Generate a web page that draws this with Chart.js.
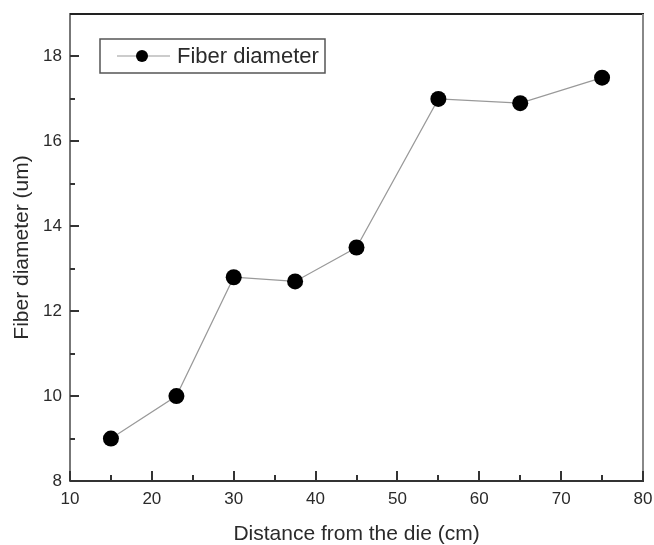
<!DOCTYPE html>
<html>
<head>
<meta charset="utf-8">
<script src="https://cdn.jsdelivr.net/npm/chart.js@4/dist/chart.umd.min.js"></script>
<style>
html,body{margin:0;padding:0;background:#fff;}
canvas{display:block;}
</style>
</head>
<body>
<canvas id="c" width="654" height="545"></canvas>
<script>
// Data
const distances = [15, 23, 30, 37.5, 45, 55, 65, 75];
const fiberDiameters = [9.0, 10.0, 12.8, 12.7, 13.5, 17.0, 16.9, 17.5];
const seriesLabel = 'Fiber diameter';
const xTitle = 'Distance from the die (cm)';
const yTitle = 'Fiber diameter (um)';
const xTickValues = [10, 20, 30, 40, 50, 60, 70, 80];
const yTickValues = [8, 10, 12, 14, 16, 18];

const FONT = "'Liberation Sans', Arial, sans-serif";
const TEXT = '#2a2a2a';

const points = distances.map((d, i) => ({x: d, y: fiberDiameters[i]}));

const framePlugin = {
  id: 'frame',
  afterDraw(chart) {
    const ctx = chart.ctx;
    const a = chart.chartArea;
    const xs = chart.scales.x, ys = chart.scales.y;
    ctx.save();
    // top and right frame
    ctx.lineWidth = 2;
    ctx.strokeStyle = '#222';
    ctx.beginPath(); ctx.moveTo(a.left, a.top); ctx.lineTo(a.right + 1, a.top); ctx.stroke();
    ctx.strokeStyle = '#888';
    ctx.beginPath(); ctx.moveTo(a.right, a.top); ctx.lineTo(a.right, a.bottom); ctx.stroke();
    // inward ticks
    ctx.strokeStyle = '#333';
    ctx.lineWidth = 2;
    for (let v = xs.min; v <= xs.max; v += 5) {
      const px = Math.round(xs.getPixelForValue(v));
      const len = (v % 10 === 0) ? 10 : 6;
      ctx.beginPath(); ctx.moveTo(px, a.bottom); ctx.lineTo(px, a.bottom - len); ctx.stroke();
    }
    for (let v = ys.min; v <= 18; v += 1) {
      const py = Math.round(ys.getPixelForValue(v));
      const len = (v % 2 === 0) ? 9 : 5;
      ctx.beginPath(); ctx.moveTo(a.left, py); ctx.lineTo(a.left + len, py); ctx.stroke();
    }
    // legend box
    const ds = chart.data.datasets[0];
    const bx = 100, by = 39;
    const bw = 225, bh = 34;
    ctx.lineWidth = 1.5;
    ctx.strokeStyle = '#555';
    ctx.strokeRect(bx, by, bw, bh);
    const cy = by + bh / 2;
    ctx.strokeStyle = '#999';
    ctx.lineWidth = 1.2;
    ctx.beginPath(); ctx.moveTo(bx + 17, cy); ctx.lineTo(bx + 70, cy); ctx.stroke();
    ctx.fillStyle = '#000';
    ctx.beginPath(); ctx.arc(bx + 42, cy, 6, 0, Math.PI * 2); ctx.fill();
    ctx.fillStyle = TEXT;
    ctx.font = '22px ' + FONT;
    ctx.textBaseline = 'middle';
    ctx.textAlign = 'left';
    ctx.fillText(ds.label, bx + 77, cy + 1);
    ctx.restore();
  }
};

new Chart(document.getElementById('c'), {
  type: 'scatter',
  data: {
    datasets: [{
      label: seriesLabel,
      data: points,
      showLine: true,
      borderColor: '#999',
      borderWidth: 1.2,
      pointBackgroundColor: '#000',
      pointBorderColor: '#000',
      pointRadius: 8,
      pointBorderWidth: 0,
      pointHoverRadius: 8
    }]
  },
  options: {
    responsive: false,
    devicePixelRatio: 1,
    animation: false,
    layout: { padding: { top: 14, right: 11, left: 0, bottom: 0 } },
    plugins: { legend: { display: false }, tooltip: { enabled: false } },
    scales: {
      x: {
        type: 'linear',
        min: 10, max: 80,
        afterFit(s) { s.height = 64; s.paddingLeft = 0; s.paddingRight = 0; },
        afterBuildTicks(s) { s.ticks = xTickValues.map(v => ({value: v})); },
        grid: { display: false, drawTicks: false },
        border: { display: true, color: '#333', width: 2 },
        ticks: { padding: 8, color: TEXT, font: { family: FONT, size: 17 } },
        title: { display: true, text: xTitle, color: TEXT, font: { family: FONT, size: 21, lineHeight: 1.0 }, padding: { top: 0, bottom: 0 } }
      },
      y: {
        type: 'linear',
        min: 8, max: 19,
        afterFit(s) { s.width = 70; s.paddingTop = 0; s.paddingBottom = 0; },
        afterBuildTicks(s) { s.ticks = yTickValues.map(v => ({value: v})); },
        grid: { display: false, drawTicks: false },
        border: { display: true, color: '#777', width: 2 },
        ticks: { padding: 8, color: TEXT, font: { family: FONT, size: 17 } },
        title: { display: true, text: yTitle, color: TEXT, font: { family: FONT, size: 21, lineHeight: 1.0 }, padding: { top: 12, bottom: 0 } }
      }
    }
  },
  plugins: [framePlugin]
});
</script>
</body>
</html>
